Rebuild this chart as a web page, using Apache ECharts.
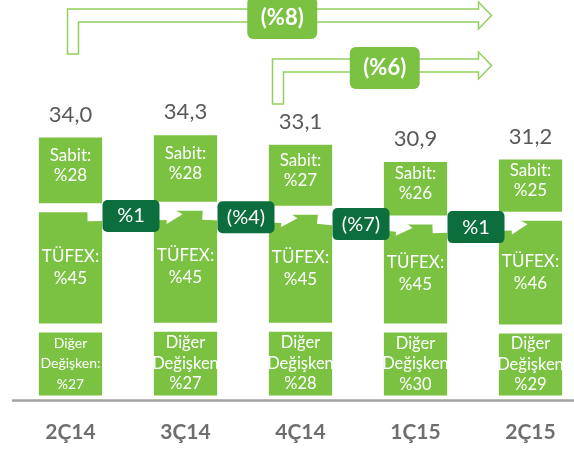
<!DOCTYPE html>
<html>
<head>
<meta charset="utf-8">
<script src="https://cdn.jsdelivr.net/npm/echarts@6/dist/echarts.min.js"></script>
<style>
  html, body { margin: 0; padding: 0; background: #fff; }
  #main { width: 574px; height: 451px; }
</style>
</head>
<body>
<div id="main"></div>
<script>
const categories = ["2Ç14", "3Ç14", "4Ç14", "1Ç15", "2Ç15"];
const totals = [34.0, 34.3, 33.1, 30.9, 31.2];
const sabitPct = [28, 28, 27, 26, 25];
const tufexPct = [45, 45, 45, 45, 46];
const digerPct = [27, 27, 28, 30, 29];
const digerNames = ["Diğer\nDeğişken:", "Diğer\nDeğişken", "Diğer\nDeğişken", "Diğer\nDeğişken", "Diğer\nDeğişken"];
const flowLabels = ["%1", "(%4)", "(%7)", "%1"];
const bracketFrom = [0, 2];
const bracketTo = [4, 4];
const bracketLabels = ["(%8)", "(%6)"];

// drawing constants (not data)
const GREEN = "#7cc242";
const DARK = "#0b6e3c";
const GAP = 9;
const FONT = "Lato";
const bracketLayout = [{ dx: -3, top: 9 }, { dx: -28, top: 59 }];

const chart = echarts.init(document.getElementById("main"));

// value of the Sabit / TÜFEX split of a bar
const splitValue = (i) => {
  const sum = sabitPct[i] + tufexPct[i] + digerPct[i];
  return totals[i] * (digerPct[i] + tufexPct[i]) / sum;
};

const renderBar = (params, api) => {
  const i = params.dataIndex;
  const total = totals[i];
  const sum = sabitPct[i] + tufexPct[i] + digerPct[i];
  const cx = api.coord([i, 0])[0];
  const w = api.size([1, 0])[0] * 0.55;
  const parts = [
    { pct: digerPct[i], text: digerNames[i] + "\n%" + digerPct[i], size: i === 0 ? 14 : 16.5, lh: 20.5, dy: 0 },
    { pct: tufexPct[i], text: "TÜFEX:\n%" + tufexPct[i], size: 17, lh: 22, dy: 0 },
    { pct: sabitPct[i], text: "Sabit:\n%" + sabitPct[i], size: 17, lh: 20, dy: -5 },
  ];
  const children = [];
  let acc = 0;
  parts.forEach((p) => {
    const lo = acc;
    acc += total * p.pct / sum;
    const yb = api.coord([i, lo])[1] - GAP / 2;
    const yt = api.coord([i, acc])[1] + GAP / 2;
    children.push({
      type: "rect",
      shape: { x: cx - w / 2, y: yt, width: w, height: yb - yt },
      style: { fill: GREEN },
    });
    children.push({
      type: "text",
      style: {
        text: p.text, x: cx, y: (yt + yb) / 2 + p.dy,
        align: "center", verticalAlign: "middle",
        fill: "#fff", fontSize: p.size, fontFamily: FONT, lineHeight: p.lh,
      },
    });
  });
  const top = api.coord([i, total])[1] + GAP / 2;
  children.push({
    type: "text",
    style: {
      text: total.toFixed(1).replace(".", ","), x: cx, y: top - 23,
      align: "center", verticalAlign: "middle",
      fill: "#595959", fontSize: 22, fontFamily: FONT,
    },
  });
  return { type: "group", children: children };
};

const renderFlow = (params, api) => {
  const i = params.dataIndex;
  const a = api.coord([i, splitValue(i)]);
  const b = api.coord([i + 1, splitValue(i + 1)]);
  const x1 = a[0] + 17, y1 = a[1] + 8;
  const x2 = b[0] - 3, y2 = b[1] + 8;
  const len = Math.hypot(x2 - x1, y2 - y1);
  const dx = (x2 - x1) / len, dy = (y2 - y1) / len;
  const nx = -dy, ny = dx;
  const sh = 5.5, hh = 9.5, hl = 16;
  const neckX = x2 - dx * hl, neckY = y2 - dy * hl;
  const pts = [
    [x1 + nx * sh, y1 + ny * sh],
    [neckX + nx * sh, neckY + ny * sh],
    [neckX + nx * hh, neckY + ny * hh],
    [x2, y2],
    [neckX - nx * hh, neckY - ny * hh],
    [neckX - nx * sh, neckY - ny * sh],
    [x1 - nx * sh, y1 - ny * sh],
  ];
  const mx = (a[0] + b[0]) / 2 + 3;
  const my = (y1 + y2) / 2 + 1;
  return {
    type: "group",
    children: [
      { type: "polygon", shape: { points: pts }, style: { fill: "#fff" } },
      {
        type: "rect",
        shape: { x: mx - 28.5, y: my - 16, width: 57, height: 32, r: 5 },
        style: { fill: DARK },
      },
      {
        type: "text",
        style: {
          text: flowLabels[i], x: mx, y: my, align: "center", verticalAlign: "middle",
          fill: "#fff", fontSize: 20, fontFamily: FONT,
        },
      },
    ],
  };
};

const renderBracket = (params, api) => {
  const k = params.dataIndex;
  const L = bracketLayout[k];
  const xl = api.coord([bracketFrom[k], 0])[0] + L.dx;
  const xt = api.coord([bracketTo[k], 0])[0] - 39;
  const y = L.top;
  const pts = [
    [xl, y + 45], [xl, y], [xt - 13, y], [xt - 13, y - 7], [xt, y + 6.5],
    [xt - 13, y + 20], [xt - 13, y + 13], [xl + 11, y + 13], [xl + 11, y + 45],
  ];
  const mx = (xl + 5.5 + xt) / 2;
  const my = y + 9;
  return {
    type: "group",
    children: [
      { type: "polygon", shape: { points: pts }, style: { fill: "#fff", stroke: "#92cf5c", lineWidth: 1.5 } },
      {
        type: "rect",
        shape: { x: mx - 35, y: my - 21, width: 70, height: 42, r: 6 },
        style: { fill: GREEN },
      },
      {
        type: "text",
        style: {
          text: bracketLabels[k], x: mx, y: my, align: "center", verticalAlign: "middle",
          fill: "#fff", fontSize: 22, fontWeight: "bold", fontFamily: FONT,
        },
      },
    ],
  };
};

option = {
  animation: false,
  grid: { left: 13, right: -14, top: 86, bottom: 51, outerBoundsMode: "none", containLabel: false },
  xAxis: {
    type: "category",
    data: categories,
    axisLine: { lineStyle: { color: "#a3a3a3", width: 2.5 } },
    axisTick: { show: false },
    axisLabel: { margin: 22, color: "#6e6e6e", fontSize: 21, fontWeight: "bold", fontFamily: FONT },
  },
  yAxis: { type: "value", min: 0, max: 40, show: false },
  series: [
    { type: "custom", renderItem: renderBar, data: categories.map((c, i) => [i, totals[i]]) },
    { type: "custom", renderItem: renderFlow, z: 3, data: flowLabels.map((l, i) => [i, 0]) },
    { type: "custom", renderItem: renderBracket, z: 3, data: bracketLabels.map((l, k) => [bracketFrom[k], 0]) },
  ],
};

chart.setOption(option);
</script>
</body>
</html>
